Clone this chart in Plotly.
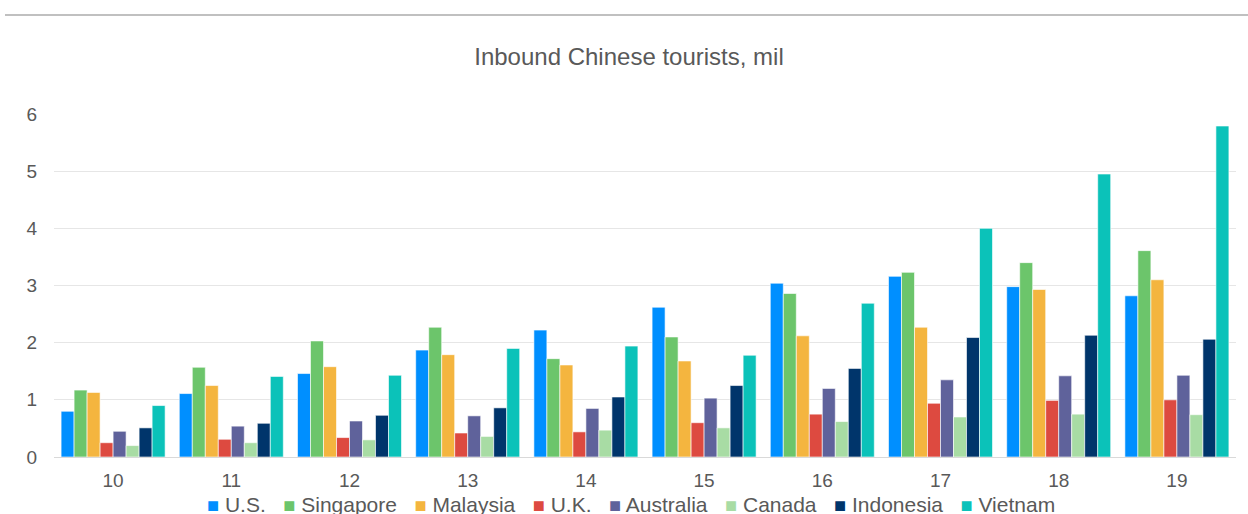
import plotly.graph_objects as go

# Years (2010-2019) shown as two-digit labels
years = ["10", "11", "12", "13", "14", "15", "16", "17", "18", "19"]

# Inbound Chinese tourists by destination, millions
us =        [0.80, 1.11, 1.46, 1.87, 2.22, 2.62, 3.04, 3.16, 2.98, 2.82]
singapore = [1.17, 1.57, 2.03, 2.27, 1.72, 2.10, 2.86, 3.23, 3.40, 3.61]
malaysia =  [1.13, 1.25, 1.58, 1.79, 1.61, 1.68, 2.12, 2.27, 2.93, 3.10]
uk =        [0.25, 0.31, 0.34, 0.42, 0.44, 0.60, 0.75, 0.94, 0.99, 1.00]
australia = [0.45, 0.54, 0.63, 0.72, 0.85, 1.03, 1.20, 1.35, 1.42, 1.43]
canada =    [0.20, 0.25, 0.30, 0.36, 0.47, 0.51, 0.62, 0.70, 0.75, 0.74]
indonesia = [0.51, 0.59, 0.73, 0.86, 1.05, 1.25, 1.55, 2.09, 2.13, 2.06]
vietnam =   [0.90, 1.41, 1.43, 1.90, 1.94, 1.78, 2.69, 4.00, 4.95, 5.79]

names = ["U.S.", "Singapore", "Malaysia", "U.K.", "Australia", "Canada", "Indonesia", "Vietnam"]
values = [us, singapore, malaysia, uk, australia, canada, indonesia, vietnam]
colors = ["#008FFF", "#6CC56B", "#F4B53F", "#DD4A40", "#5F629B", "#A8DCA4", "#00356B", "#0BC2B9"]

FONT = "Liberation Sans, Arial, sans-serif"
GREY = "#595959"

fig = go.Figure()
for name, vals, color in zip(names, values, colors):
    fig.add_trace(go.Bar(
        x=years, y=vals, name=name, showlegend=False,
        marker=dict(color=color, line=dict(color="rgba(255,255,255,0.6)", width=1)),
    ))

# Compact one-line key under the axis: coloured square + series name
key_items = [
    f"<span style='color:{c};font-size:20px'>■</span> {n}" for n, c in zip(names, colors)
]
key_text = "&nbsp;&nbsp;&nbsp;".join(key_items)

W, H = 1248, 514
L, R, T, B = 54, 12, 114, 57
PW = W - L - R
PH = H - T - B

fig.update_layout(
    width=W, height=H,
    margin=dict(l=L, r=R, t=T, b=B, autoexpand=False),
    paper_bgcolor="white", plot_bgcolor="white",
    barmode="group", bargap=0.12, bargroupgap=0,
    font=dict(family=FONT, color=GREY, size=19),
    title=dict(
        text="Inbound Chinese tourists, mil",
        x=629 / W, xanchor="center", xref="container",
        y=1 - 57 / H, yanchor="middle", yref="container",
        font=dict(size=24, color=GREY, family=FONT),
    ),
    xaxis=dict(
        type="category", showgrid=False, ticks="",
        showline=True, linecolor="#D9D9D9", linewidth=1,
        tickfont=dict(size=19, color=GREY), ticklabelstandoff=6,
    ),
    yaxis=dict(
        range=[0, 6], dtick=1, showgrid=True, gridcolor="#E6E6E6", gridwidth=1,
        zeroline=False, ticks="", tickfont=dict(size=19, color=GREY),
        ticklabelstandoff=16,
    ),
    showlegend=False,
    annotations=[dict(
        text=key_text, showarrow=False,
        xref="paper", yref="paper",
        x=(631 - L) / PW, xanchor="center",
        y=-(504 - (H - B)) / PH, yanchor="middle",
        font=dict(size=21, color=GREY, family=FONT),
    )],
    shapes=[dict(
        type="line", xref="paper", yref="paper",
        x0=(5 - L) / PW, x1=(W - L) / PW,
        y0=(H - B - 15) / PH, y1=(H - B - 15) / PH,
        line=dict(color="#C0C0C0", width=2),
    )],
)

fig.write_html("out.html")
